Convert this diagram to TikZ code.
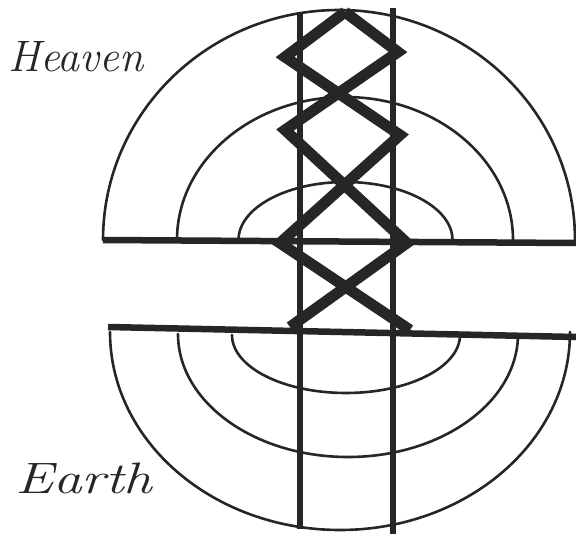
\documentclass[tikz,border=0pt]{standalone}
\usepackage{tikz}
\usetikzlibrary{positioning}

\begin{document}
\begin{tikzpicture}[x=1pt,y=-1pt,line cap=round,line join=round,
  ink/.style={draw=black!85,text=black!85},
  thin line/.style={ink,line width=2.6pt},
  bar/.style={ink,line width=6.5pt,line cap=butt},
  zigzag/.style={ink,line width=11pt,line join=miter,line cap=butt},
  hand/.style={text=black!85,font=\fontsize{44}{44}\selectfont\itshape,inner sep=0pt}]
  \useasboundingbox (0,0) rectangle (576,538);
  % ---- labels --------------------------------------------------------------
  \node[hand,anchor=base west] (heaven) at (8,71) {Heaven};
  \node[hand,anchor=base west,xscale=1.3] (earth) at (15,493) {Earth};
  % ---- heaven arcs ---------------------------------------------------------
  \foreach \cx/\rx/\ry in {339/236/230, 345/168/143, 345.5/107/58}
    \draw[thin line] (\cx-\rx,240) arc[start angle=180,end angle=360,x radius=\rx,y radius=\ry];
  % ---- earth arcs ----------------------------------------------------------
  \foreach \cx/\cy/\rx/\ry in {340/332/230/198, 348/334/170/123, 346/335/114/58}
    \draw[thin line] (\cx-\rx,\cy) arc[start angle=180,end angle=0,x radius=\rx,y radius=\ry];
  % ---- pillars and bars ----------------------------------------------------
  \draw[bar] (300,12) -- (300,529);
  \draw[bar] (393,8) -- (393,534);
  \draw[bar] (103,240) -- (576,243);
  \draw[bar] (108,327) -- (576,337);
  % ---- ladder of crossings -------------------------------------------------
  \draw[zigzag] (345,12) -- (285,57) -- (400,135) -- (280,243) -- (410,330);
  \draw[zigzag] (345,12) -- (398,52) -- (285,130) -- (407,243) -- (290,327);
\end{tikzpicture}
\end{document}
